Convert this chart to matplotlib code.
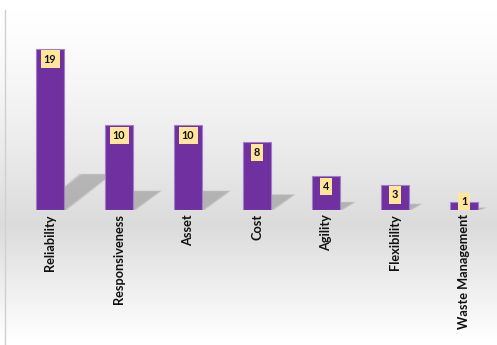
import numpy as np
import matplotlib
matplotlib.use("Agg")
import matplotlib.pyplot as plt
from matplotlib.patches import Polygon

categories = ["Reliability", "Responsiveness", "Asset", "Cost", "Agility",
              "Flexibility", "Waste Management"]
values = [19, 10, 10, 8, 4, 3, 1]

W, H = 497, 345
fig = plt.figure(figsize=(W / 100, H / 100), dpi=100)

# background gradient
bg = fig.add_axes([0, 0, 1, 1], zorder=-2)
bg.set_axis_off()
ys = np.linspace(0, 1, 400)  # 0 = top
def shade(y):
    top, mid, bot = 10 / H, 225 / H, 340 / H
    lo = 0.86
    out = np.ones_like(y)
    m1 = (y >= top) & (y <= mid)
    out[m1] = 1 - (1 - lo) * ((y[m1] - top) / (mid - top)) ** 1.3
    m2 = (y > mid) & (y <= bot)
    out[m2] = lo + (1 - lo) * ((y[m2] - mid) / (bot - mid))
    return out
g = shade(ys)
img = np.repeat(np.dstack([g, g, g]).reshape(len(ys), 1, 3), 2, axis=1)
bg.imshow(img, aspect="auto", extent=[0, 1, 0, 1], origin="upper")
bg.set_xlim(0, 1)
bg.set_ylim(0, 1)
bg.add_line(plt.Line2D([5 / W, 5 / W], [0, 1 - 10 / H], color="#d0d0d0", lw=1.0))

# main axes
ax = fig.add_axes([15.5 / W, (H - 210) / H, 483 / W, 169.4 / H])
ax.set_facecolor("none")
x = np.arange(len(categories))
ax.set_xlim(-0.5, len(categories) - 0.5)
ax.set_ylim(0, 20)

bw = 0.406
bars = ax.bar(x, values, width=bw, color="#7030a0", edgecolor="#a07ec8",
              linewidth=0.8, zorder=3)

# soft cast shadows
for xi, v in zip(x, values):
    hs = 0.22 * v
    dx = 0.032 * v + 0.06
    left, right = xi - bw / 2, xi + bw / 2
    for k in range(5):
        e = 0.012 * k
        poly = Polygon([(left, 0), (right + e, 0), (right + dx + e, hs + e * 2),
                        (left + dx - e, hs + e * 2)],
                       closed=True, facecolor="#8a8a8a", edgecolor="none",
                       alpha=0.13, zorder=2)
        ax.add_patch(poly)

# labels
for xi, v in zip(x, values):
    yl = v - 1.2 if v - 1.2 > v / 2 else v
    ax.text(xi, yl, str(v), ha="center", va="center", fontsize=7.8,
            fontweight="bold", family="Lato", color="#111111", zorder=5,
            bbox=dict(boxstyle="square,pad=0.3", fc="#ffe699", ec="none"))

for s in ax.spines.values():
    s.set_visible(False)
ax.set_yticks([])
ax.set_xticks(x)
ax.set_xticklabels(categories, rotation=90, fontsize=9.2, fontweight="bold",
                   family="Lato", va="top", ha="center", color="#111111")
ax.tick_params(axis="x", length=0, pad=3)

fig.savefig("out.png", dpi=100)
